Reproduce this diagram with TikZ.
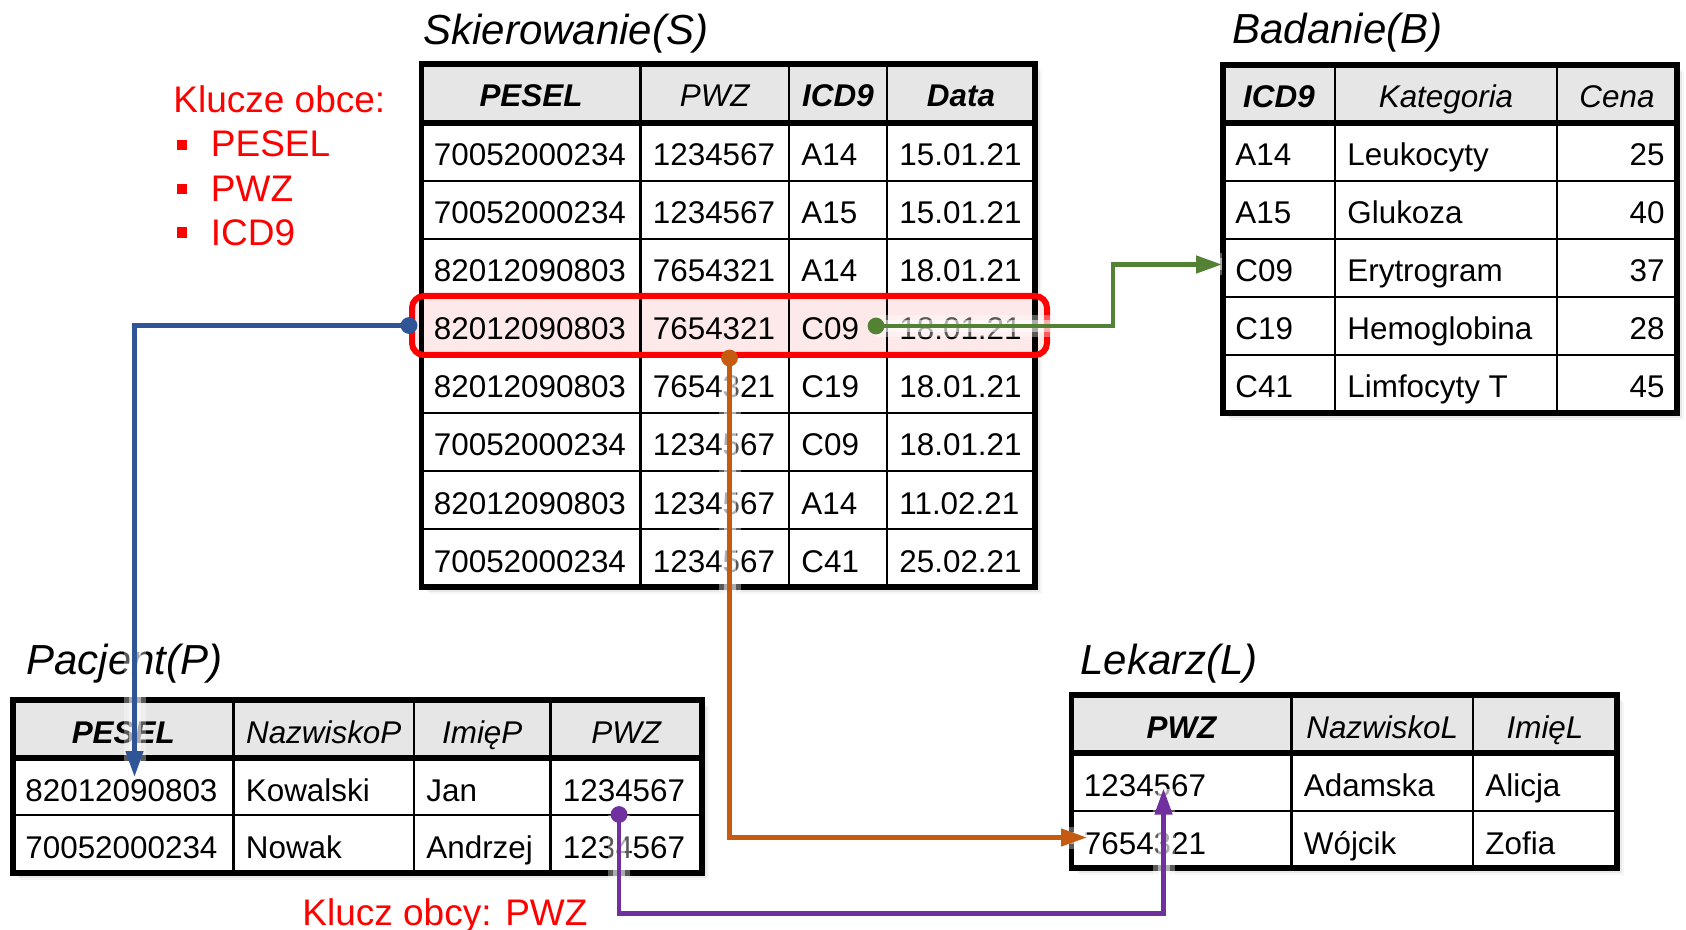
\documentclass[tikz,border=0pt]{standalone}
\usepackage{fontspec}
\setmainfont{Liberation Sans}
\usetikzlibrary{arrows.meta,calc}
\definecolor{hdrgray}{RGB}{230,230,230}
\definecolor{hlpink}{RGB}{253,233,233}
\definecolor{cblue}{RGB}{47,85,151}
\definecolor{cgreen}{RGB}{84,130,53}
\definecolor{corange}{RGB}{197,90,17}
\definecolor{cpurple}{RGB}{112,48,160}
\definecolor{kred}{RGB}{255,0,0}
\tikzset{
  outerline/.style={line width=2.75pt,black},
  hdrline/.style={line width=3.2pt,black},
  innerline/.style={line width=1.35pt,black},
  txt/.style={anchor=base west,inner sep=0pt,font=\fontsize{15.7}{18}\selectfont},
  txtr/.style={anchor=base east,inner sep=0pt,font=\fontsize{15.7}{18}\selectfont},
  hd/.style={anchor=base,inner sep=0pt,font=\fontsize{15.7}{18}\selectfont\itshape},
  hdb/.style={anchor=base,inner sep=0pt,font=\fontsize{15.7}{18}\selectfont\bfseries\itshape},
  ttl/.style={anchor=base west,inner sep=0pt,font=\fontsize{21}{25}\selectfont\itshape},
  redt/.style={anchor=base west,inner sep=0pt,text=kred,font=\fontsize{18.5}{22}\selectfont},
  bul/.style={fill=kred,draw=none,inner sep=0pt,minimum size=5.3pt},
  halo/.style={draw=white,line width=11pt,opacity=0.35,line join=round},
  halo2/.style={draw=white,line width=6pt,opacity=0.5,line join=round},
  conn/.style={line width=2.2pt,-{Triangle[length=13pt,width=8.5pt]}},
  hlbox/.style={draw=kred,line width=3pt,rounded corners=6pt,minimum width=317.5pt,minimum height=29.5pt,inner sep=0pt},
}
\newcommand\tableframe[5]{%
  \foreach \s/\o in {7/0.035,5/0.05,3/0.07}
    \fill[black,opacity=\o] ({#1+\s},{#2+\s}) rectangle ({#3+\s},{#4+\s});
  \fill[white] (#1,#2) rectangle (#3,#4);
  \fill[hdrgray] (#1,#2) rectangle (#3,#5);
}
\newcommand\tableborder[5]{%
  \draw[hdrline] (#1,#5) -- (#3,#5);
  \draw[outerline] (#1,#2) rectangle (#3,#4);
}
\begin{document}
\begin{tikzpicture}[x=0.5pt,y=-0.5pt]
\useasboundingbox (0,0) rectangle (1686,930);

% ---------- Titles ----------
\node[ttl] (tS) at (423,44.5) {Skierowanie(S)};
\node[ttl] (tB) at (1232,44) {Badanie(B)};
\node[ttl] (tP) at (26,674) {Pacjent(P)};
\node[ttl] (tL) at (1080,674) {Lekarz(L)};

% ---------- Red notes ----------
\node[redt] (fk) at (173,112.5) {Klucze obce:};
\node[bul] (b1) at (182,145) {};
\node[bul] (b2) at (182,189) {};
\node[bul] (b3) at (182,232.5) {};
\node[redt] (fk1) at (210.5,157) {PESEL};
\node[redt] (fk2) at (210.5,201.5) {PWZ};
\node[redt] (fk3) at (210.5,245.3) {ICD9};
\node[redt] (fkp) at (302,925) {Klucz obcy: PWZ};

% ---------- Table S ----------
\tableframe{421.5}{64}{1035}{587}{123}
\fill[hlpink,rounded corners=6pt] (412,296) rectangle (1047,355);
\foreach \x in {640.5,789,887} \draw[innerline] (\x,64) -- (\x,587);
\foreach \y in {181,239,...,529} \draw[innerline] (421.5,\y) -- (1035,\y);
\tableborder{421.5}{64}{1035}{587}{123}
\node[hdb] (S-h-1) at (531,107) {PESEL};
\node[hd]  (S-h-2) at (714.75,107) {PWZ};
\node[hdb] (S-h-3) at (838,107) {ICD9};
\node[hdb] (S-h-4) at (961,107) {Data};
\foreach \a/\b/\c/\d [count=\r] in {
  70052000234/1234567/A14/15.01.21,
  70052000234/1234567/A15/15.01.21,
  82012090803/7654321/A14/18.01.21,
  82012090803/7654321/C09/18.01.21,
  82012090803/7654321/C19/18.01.21,
  70052000234/1234567/C09/18.01.21,
  82012090803/1234567/A14/11.02.21,
  70052000234/1234567/C41/25.02.21}{
  \node[txt] (S-\r-1) at (433.5,{108+58*\r}) {\a};
  \node[txt] (S-\r-2) at (652.5,{108+58*\r}) {\b};
  \node[txt] (S-\r-3) at (801,{108+58*\r}) {\c};
  \node[txt] (S-\r-4) at (899,{108+58*\r}) {\d};
}

% ---------- Table B ----------
\tableframe{1223}{65}{1677}{413}{123}
\foreach \x in {1335,1557} \draw[innerline] (\x,65) -- (\x,413);
\foreach \y in {181,239,...,355} \draw[innerline] (1223,\y) -- (1677,\y);
\tableborder{1223}{65}{1677}{413}{123}
\node[hdb] (B-h-1) at (1279,108) {ICD9};
\node[hd]  (B-h-2) at (1446,108) {Kategoria};
\node[hd]  (B-h-3) at (1617,108) {Cena};
\foreach \a/\b/\c [count=\r] in {
  A14/Leukocyty/25, A15/Glukoza/40, C09/Erytrogram/37,
  C19/Hemoglobina/28, C41/Limfocyty T/45}{
  \node[txt]  (B-\r-1) at (1235,{108+58*\r}) {\a};
  \node[txt]  (B-\r-2) at (1347,{108+58*\r}) {\b};
  \node[txtr] (B-\r-3) at (1665,{108+58*\r}) {\c};
}

% ---------- Table P ----------
\tableframe{13}{700}{702}{873}{758}
\foreach \x in {233.5,414,550.5} \draw[innerline] (\x,700) -- (\x,873);
\draw[innerline] (13,815) -- (702,815);
\tableborder{13}{700}{702}{873}{758}
\node[hdb] (P-h-1) at (123.25,743) {PESEL};
\node[hd]  (P-h-2) at (323.75,743) {NazwiskoP};
\node[hd]  (P-h-3) at (482.25,743) {ImięP};
\node[hd]  (P-h-4) at (626.25,743) {PWZ};
\node[txt] (P-1-1) at (25,801) {82012090803};
\node[txt] (P-1-2) at (245.5,801) {Kowalski};
\node[txt] (P-1-3) at (426,801) {Jan};
\node[txt] (P-1-4) at (562.5,801) {1234567};
\node[txt] (P-2-1) at (25,858) {70052000234};
\node[txt] (P-2-2) at (245.5,858) {Nowak};
\node[txt] (P-2-3) at (426,858) {Andrzej};
\node[txt] (P-2-4) at (562.5,858) {1234567};

% ---------- Table L ----------
\tableframe{1071.5}{695}{1617}{868}{753}
\foreach \x in {1291.5,1473} \draw[innerline] (\x,695) -- (\x,868);
\draw[innerline] (1071.5,811) -- (1617,811);
\tableborder{1071.5}{695}{1617}{868}{753}
\node[hdb] (L-h-1) at (1181.5,738) {PWZ};
\node[hd]  (L-h-2) at (1382.25,738) {NazwiskoL};
\node[hd]  (L-h-3) at (1545,738) {ImięL};
\node[txt] (L-1-1) at (1083.5,796) {1234567};
\node[txt] (L-1-2) at (1303.5,796) {Adamska};
\node[txt] (L-1-3) at (1485,796) {Alicja};
\node[txt] (L-2-1) at (1083.5,854) {7654321};
\node[txt] (L-2-2) at (1303.5,854) {Wójcik};
\node[txt] (L-2-3) at (1485,854) {Zofia};

% ---------- Highlight ----------
\node[hlbox] (hl) at (729.5,325.5) {};

% ---------- Connector ends ----------
\coordinate (gstart) at (876,326);
\coordinate (pstart) at (619,814.5);
\coordinate (btip) at (134.5,777);
\coordinate (gtip) at (1222,264.5);
\coordinate (otip) at (1087,837.5);
\coordinate (ptip) at (1163.5,788.5);

% halos
\foreach \h in {halo,halo2}{
  \draw[\h] (hl.west) -| (btip);
  \draw[\h] (gstart) -| (1113,264.5) -- (gtip);
  \draw[\h] (hl.south) |- (otip);
  \draw[\h] (pstart) |- (1163.5,913.5) -- (ptip);
}

% connectors
\draw[conn,cblue] (hl.west) -| (btip);
\draw[conn,cgreen] (gstart) -| (1113,264.5) -- (gtip);
\draw[conn,corange] (hl.south) |- (otip);
\draw[conn,cpurple] (pstart) |- (1163.5,913.5) -- (ptip);

% dots
\fill[cblue] (hl.west) circle[radius=4.2pt];
\fill[cgreen] (gstart) circle[radius=4.2pt];
\fill[corange] (hl.south) circle[radius=4.2pt];
\fill[cpurple] (pstart) circle[radius=4.2pt];
\end{tikzpicture}
\end{document}
